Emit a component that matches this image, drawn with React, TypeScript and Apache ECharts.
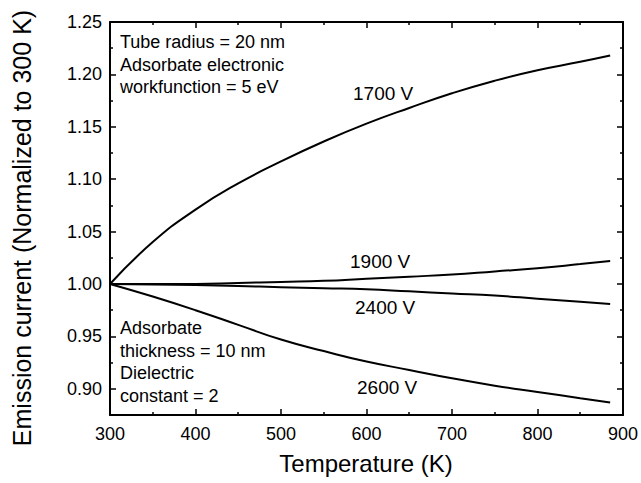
import React, { useEffect, useRef } from "react";
import * as echarts from "echarts";

const temps = [300, 350, 400, 450, 500, 550, 600, 650, 700, 750, 800, 850, 885];
const v1700 = [1.0, 1.04, 1.071, 1.096, 1.117, 1.136, 1.153, 1.168, 1.182, 1.194, 1.204, 1.212, 1.218];
const v1900 = [1.0, 1.0, 1.0, 1.001, 1.002, 1.003, 1.005, 1.007, 1.009, 1.012, 1.015, 1.019, 1.022];
const v2400 = [1.0, 0.9995, 0.999, 0.998, 0.997, 0.996, 0.995, 0.993, 0.991, 0.989, 0.986, 0.983, 0.981];
const v2600 = [1.0, 0.988, 0.975, 0.961, 0.947, 0.936, 0.926, 0.918, 0.91, 0.903, 0.897, 0.891, 0.887];

const yMajor = [0.9, 0.95, 1.0, 1.05, 1.1, 1.15, 1.2, 1.25];
const yMinor = [0.875, 0.925, 0.975, 1.025, 1.075, 1.125, 1.175, 1.225];

const FONT = "Liberation Sans, Arial, sans-serif";

export default function App() {
  const ref = useRef<HTMLDivElement>(null);
  useEffect(() => {
    if (!ref.current) return;
    const chart = echarts.init(ref.current, null, { renderer: "svg" });
    const grid = { left: 110, right: 18, top: 22, bottom: 68, containLabel: false };
    const axisLine = { show: true, lineStyle: { color: "#000", width: 2 } };
    const mk = (vals: number[]) => vals.map((v, i) => [temps[i], v]);
    const line = (d: number[]) => ({
      type: "line",
      data: mk(d),
      smooth: true,
      showSymbol: false,
      xAxisIndex: 0,
      yAxisIndex: 0,
      lineStyle: { color: "#000", width: 2 },
    });
    const xCommon = {
      type: "value",
      min: 300,
      max: 900,
      interval: 100,
      axisLine,
      splitLine: { show: false },
      axisTick: { show: true, inside: true, length: 6, lineStyle: { color: "#000", width: 1.5 } },
      minorTick: { show: true, splitNumber: 2, length: 3, lineStyle: { color: "#000", width: 1.5 } },
    };
    const yMajorAxis = (pos: string, labels: boolean) => ({
      type: "value",
      gridIndex: 0,
      position: pos,
      min: 0.875,
      max: 1.25,
      axisLine,
      splitLine: { show: false },
      axisTick: {
        show: true,
        inside: true,
        length: 6,
        customValues: yMajor,
        lineStyle: { color: "#000", width: 1.5 },
      },
      axisLabel: labels
        ? {
            show: true,
            customValues: yMajor,
            formatter: (v: number) => v.toFixed(2),
            fontSize: 18,
            color: "#000",
            fontFamily: FONT,
            margin: 8,
          }
        : { show: false },
    });
    const yMinorAxis = (pos: string) => ({
      type: "value",
      gridIndex: 1,
      position: pos,
      min: 0.875,
      max: 1.25,
      axisLine: { show: false },
      splitLine: { show: false },
      axisTick: {
        show: true,
        inside: true,
        length: 3,
        customValues: yMinor,
        lineStyle: { color: "#000", width: 1.5 },
      },
      axisLabel: { show: false },
    });
    const txt = (x: number, y: number, text: string, fs = 18) => ({
      type: "text",
      x,
      y,
      style: {
        text,
        fontSize: fs,
        fontFamily: FONT,
        fill: "#000",
        lineHeight: 22.5,
        verticalAlign: "top",
      },
    });
    chart.setOption({
      animation: false,
      grid: [grid, grid],
      xAxis: [
        {
          ...xCommon,
          gridIndex: 0,
          position: "bottom",
          axisLabel: { fontSize: 18, color: "#000", fontFamily: FONT, margin: 10 },
        },
        { ...xCommon, gridIndex: 0, position: "top", axisLabel: { show: false } },
        {
          type: "value",
          gridIndex: 1,
          min: 300,
          max: 900,
          show: false,
        },
      ],
      yAxis: [yMajorAxis("left", true), yMajorAxis("right", false), yMinorAxis("left"), yMinorAxis("right")],
      series: [line(v1700), line(v1900), line(v2400), line(v2600)],
      graphic: [
        {
          type: "text",
          x: 22,
          y: 228,
          rotation: Math.PI / 2,
          style: {
            text: "Emission current (Normalized to 300 K)",
            fontSize: 25,
            fontFamily: FONT,
            fill: "#000",
            align: "center",
            verticalAlign: "middle",
          },
        },
        {
          type: "text",
          x: 366,
          y: 463,
          style: {
            text: "Temperature (K)",
            fontSize: 24,
            fontFamily: FONT,
            fill: "#000",
            align: "center",
            verticalAlign: "middle",
          },
        },
        txt(120, 31, "Tube radius = 20 nm\nAdsorbate electronic\nworkfunction = 5 eV"),
        txt(120, 317, "Adsorbate\nthickness = 10 nm\nDielectric\nconstant = 2"),
        txt(353, 82, "1700 V", 19),
        txt(350, 250, "1900 V", 19),
        txt(355, 296, "2400 V", 19),
        txt(357, 376, "2600 V", 19),
      ],
    });
    return () => chart.dispose();
  }, []);
  return (
    <div
      ref={ref}
      style={{ position: "fixed", left: 0, top: 0, width: 641, height: 483, background: "#fff" }}
    />
  );
}
